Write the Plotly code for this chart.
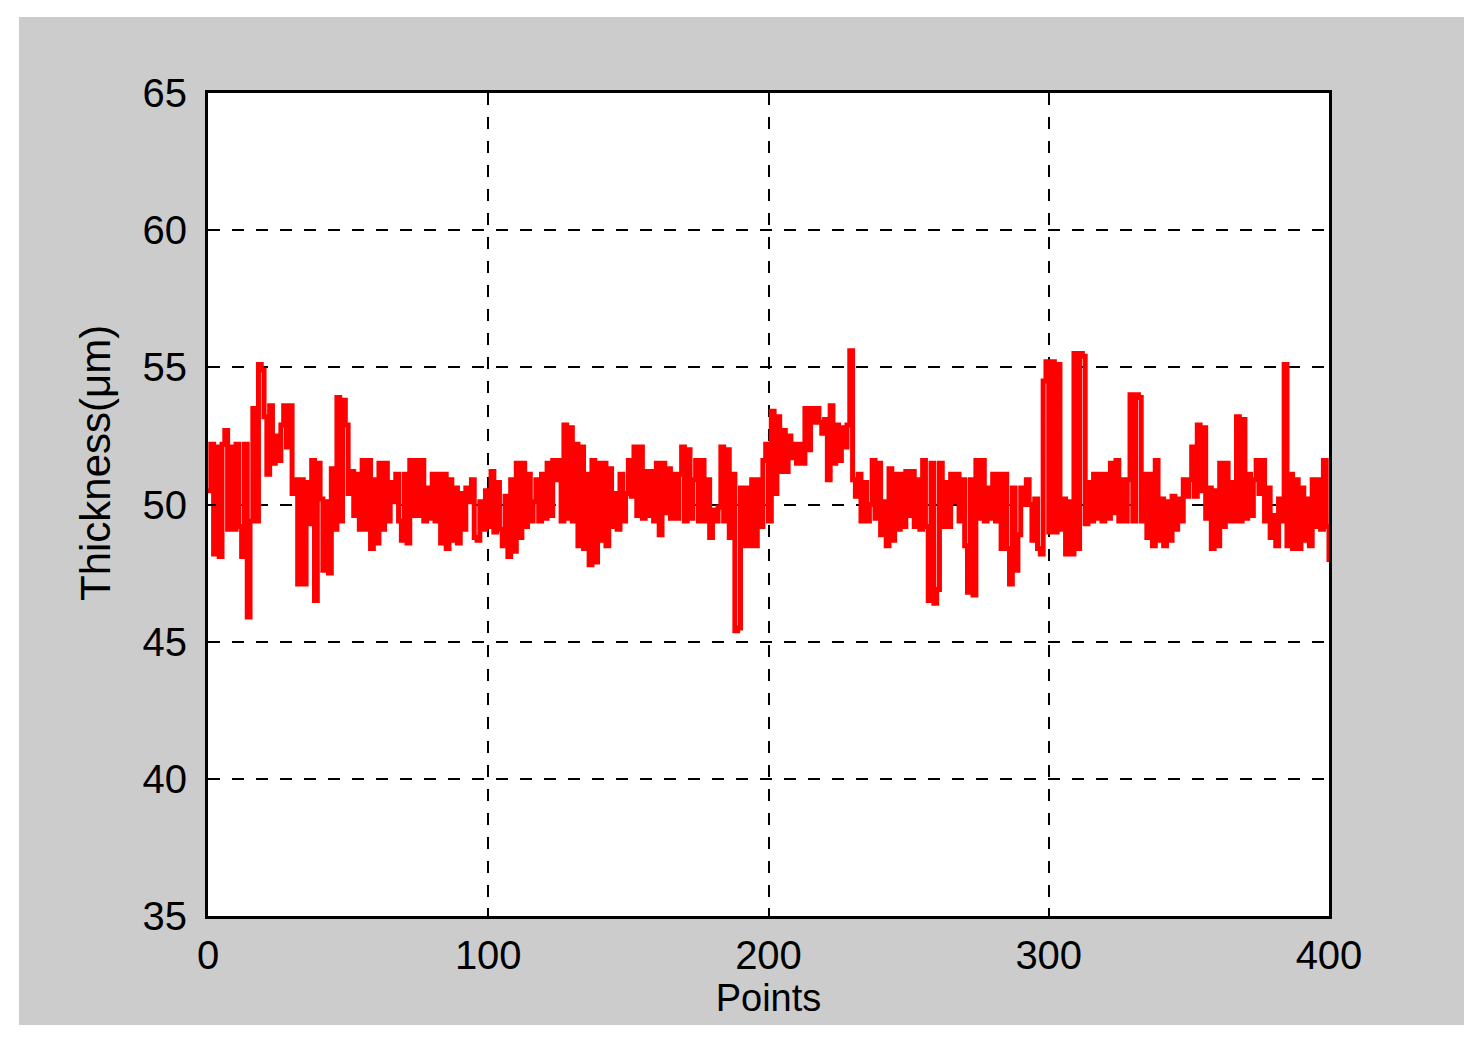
import plotly.graph_objects as go

# thickness readings per point in blocks of ~50
thickness_000 = [50.5, 52.2, 48.2, 52.1, 48.1, 52.2, 52.7, 49.1, 52.1, 49.1,
                 52.2, 49.2, 48.1, 52.2, 45.9, 49.4, 53.5, 49.4, 55.1, 54.9,
                 53.2, 51.1, 53.6, 51.5, 52.5, 51.6, 52.9, 53.6, 52.1, 53.6,
                 50.4, 50.9, 47.1, 50.9, 47.1, 50.8, 49.3, 51.6, 46.5, 51.5,
                 50.2, 47.6, 50.1, 47.5, 51.3, 49.1, 53.9, 49.4, 53.8]
thickness_049 = [52.9, 50.4, 51.2, 49.6, 51.1, 49.1, 51.6, 49.1, 51.6, 48.4,
                 50.9, 48.6, 51.5, 49.1, 51.5, 49.4, 50.8, 50.1, 51.1, 49.4,
                 48.7, 51.1, 48.6, 51.6, 49.6, 51.6, 49.6, 51.6, 49.4, 50.6,
                 49.5, 51.1, 49.4, 51.1, 48.6, 51.1, 48.4, 50.9, 48.7, 50.6,
                 48.6, 50.4, 49.1, 50.6, 50.1, 50.9, 48.8, 48.7, 50.1, 49.1]
thickness_099 = [50.5, 49.2, 51.2, 49.0, 50.8, 49.1, 48.5, 50.3, 48.1, 50.9,
                 48.3, 51.5, 48.8, 51.5, 49.2, 51.1, 49.4, 50.1, 50.9, 49.4,
                 51.1, 49.5, 51.5, 49.6, 51.6, 50.9, 51.6, 49.4, 52.9, 49.5,
                 52.8, 49.4, 52.2, 48.5, 52.1, 48.4, 51.1, 47.8, 51.6, 47.9,
                 51.5, 48.7, 51.5, 48.5, 51.3, 49.2, 50.4, 49.1, 51.1, 49.4]
thickness_149 = [50.4, 51.6, 50.3, 52.1, 49.6, 52.1, 49.5, 51.2, 49.6, 51.2,
                 49.4, 51.5, 48.9, 51.5, 49.7, 51.3, 49.5, 51.1, 49.5, 51.1,
                 52.1, 49.4, 52.0, 49.5, 50.9, 51.6, 49.4, 51.6, 49.4, 50.9,
                 48.8, 49.8, 49.4, 49.9, 52.1, 49.4, 52.0, 48.8, 51.1, 45.4,
                 45.5, 50.6, 48.5, 50.6, 48.5, 50.9, 48.5, 50.9, 49.2, 51.6]
thickness_199 = [52.2, 49.4, 53.4, 50.4, 53.2, 51.2, 52.7, 51.2, 52.5, 51.7,
                 52.2, 51.5, 52.2, 51.5, 53.5, 52.0, 53.5, 53.0, 53.5, 53.0,
                 52.6, 53.1, 50.9, 53.6, 51.5, 52.9, 51.6, 52.8, 52.1, 52.9,
                 55.6, 50.9, 50.3, 51.1, 49.4, 50.8, 49.4, 50.0, 51.6, 49.5,
                 51.5, 48.9, 50.1, 48.5, 51.3, 48.7, 51.1, 49.1, 51.1, 49.2]
thickness_249 = [51.2, 49.6, 51.2, 49.2, 50.9, 49.1, 51.6, 49.2, 46.5, 51.5,
                 46.4, 46.9, 51.5, 49.2, 50.8, 49.2, 51.1, 50.1, 51.1, 49.4,
                 50.9, 48.5, 46.8, 50.9, 46.7, 51.6, 49.5, 51.6, 49.4, 50.6,
                 49.5, 51.1, 49.4, 51.1, 48.4, 51.1, 48.4, 47.1, 50.6, 47.6,
                 48.9, 50.6, 50.0, 50.9, 50.0, 48.7, 50.2, 48.4, 48.2, 54.5]
thickness_299 = [55.2, 49.0, 55.2, 49.0, 55.1, 49.1, 50.2, 48.2, 50.1, 48.2,
                 55.5, 48.4, 55.5, 55.4, 49.3, 50.8, 49.4, 51.1, 49.5, 51.1,
                 49.4, 51.1, 49.5, 51.5, 49.7, 51.6, 49.4, 50.9, 49.4, 50.9,
                 54.0, 49.4, 54.0, 53.9, 49.4, 51.1, 48.8, 51.1, 48.5, 51.6,
                 48.7, 50.2, 48.5, 50.1, 48.7, 50.3, 49.1, 50.2, 49.4, 50.9]
thickness_349 = [50.3, 50.9, 52.1, 50.3, 52.9, 50.5, 52.8, 49.5, 50.6, 48.4,
                 50.5, 48.5, 51.5, 49.2, 51.5, 49.4, 50.8, 49.4, 53.2, 49.4,
                 53.1, 49.5, 51.1, 49.6, 50.9, 51.6, 50.4, 51.6, 49.4, 50.6,
                 48.8, 49.6, 48.5, 50.2, 49.4, 55.1, 48.5, 51.1, 48.4, 50.9,
                 48.4, 50.6, 48.7, 50.2, 48.5, 50.9, 49.2, 50.9, 49.1, 51.6,
                 49.2, 47.9]

thickness = (thickness_000 + thickness_049 + thickness_099 + thickness_149 +
             thickness_199 + thickness_249 + thickness_299 + thickness_349)
points = list(range(len(thickness)))

x_ticks = [0, 100, 200, 300, 400]
y_ticks = [35, 40, 45, 50, 55, 60, 65]

FONT = "Liberation Sans, Arial, sans-serif"

fig = go.Figure(go.Scatter(
    x=points,
    y=thickness,
    mode="lines",
    line=dict(color="#ff0000", width=5, shape="hv"),
    hoverinfo="x+y",
))

axis_common = dict(
    showgrid=True,
    gridcolor="#000000",
    gridwidth=2,
    griddash="12px,12px",
    showline=True,
    linecolor="#000000",
    linewidth=3,
    mirror=True,
    ticks="inside",
    ticklen=8,
    tickwidth=2,
    tickcolor="#000000",
    zeroline=False,
    tickfont=dict(family=FONT, size=40, color="#000000"),
)

fig.update_layout(
    width=1476,
    height=1035,
    paper_bgcolor="#ffffff",
    plot_bgcolor="rgba(0,0,0,0)",
    showlegend=False,
    margin=dict(l=200, r=155, t=85, b=127),
    xaxis=dict(
        range=[0, 400],
        tickvals=x_ticks,
        ticklabelstandoff=2,
        title=dict(text="Points", font=dict(family=FONT, size=38, color="#000000"), standoff=0),
        **axis_common,
    ),
    yaxis=dict(
        range=[35, 65],
        tickvals=y_ticks,
        ticklabelstandoff=10,
        **axis_common,
    ),
    annotations=[
        dict(text="Thickness(μm)", xref="paper", yref="paper", x=-0.1008, y=0.5504,
             textangle=-90, showarrow=False, xanchor="center", yanchor="middle",
             font=dict(family=FONT, size=42, color="#000000")),
    ],
    shapes=[
        # grey window panel behind the axes
        dict(type="rect", xref="paper", yref="paper", x0=-0.1686, x1=1.1204, y0=-0.1324, y1=1.0923,
             fillcolor="#cccccc", line=dict(width=0), layer="below"),
        # white plotting area
        dict(type="rect", xref="paper", yref="paper", x0=0, x1=1, y0=0, y1=1,
             fillcolor="#ffffff", line=dict(width=0), layer="below"),
    ],
)

fig.write_html("out.html")
